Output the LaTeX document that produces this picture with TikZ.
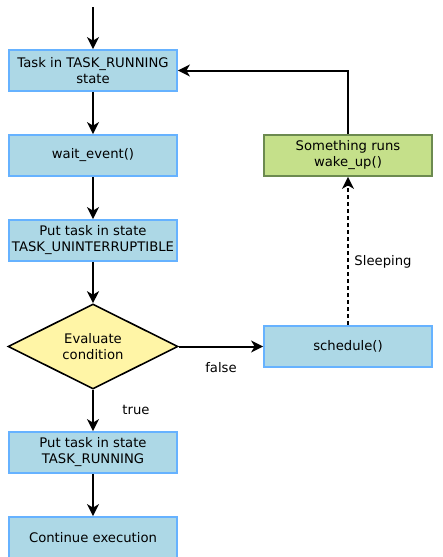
\documentclass[tikz,border=0pt]{standalone}
\usepackage{fontspec}
\setmainfont{DejaVu Sans}
\usetikzlibrary{arrows.meta,shapes.geometric}
\definecolor{bfill}{RGB}{173,216,230}
\definecolor{bdraw}{RGB}{102,178,255}
\definecolor{gfill}{RGB}{197,224,138}
\definecolor{gdraw}{RGB}{108,138,80}
\definecolor{yfill}{RGB}{255,245,166}
\tikzset{
  txt/.style={font=\fontsize{13.2}{16}\selectfont},
  bluebox/.style={txt,draw=bdraw,fill=bfill,line width=1.8pt,minimum width=168pt,minimum height=41pt,align=center,inner sep=0pt},
  greenbox/.style={bluebox,draw=gdraw,fill=gfill},
  decis/.style={txt,diamond,draw=black,fill=yfill,line width=1.6pt,minimum width=170pt,minimum height=85pt,aspect=2,inner sep=0pt,align=center},
  conn/.style={line width=2pt,-{Stealth[length=12pt,width=12pt,inset=3.5pt]}},
  lbl/.style={txt,inner sep=0pt}
}
\begin{document}
\begin{tikzpicture}[x=1pt,y=-1pt]
\useasboundingbox[fill=white] (0,0) rectangle (442,557);
\coordinate (start) at (93,7);
\node[bluebox] (run) at (93,70.5) {Task in TASK\_RUNNING\\state};
\node[bluebox] (wait) at (93,155.5) {wait\_event()};
\node[bluebox] (unint) at (93,240.5) {Put task in state\\TASK\_UNINTERRUPTIBLE};
\node[decis] (eval) at (93,346.5) {Evaluate\\condition};
\node[bluebox] (put) at (93,452.5) {Put task in state\\TASK\_RUNNING};
\node[bluebox] (cont) at (93,537.5) {Continue execution};
\node[bluebox] (sched) at (348,346.5) {schedule()};
\node[greenbox] (wake) at (348,155.5) {Something runs\\wake\_up()};
\coordinate (corner) at (348,70.5);
\draw[conn] (start) -- (run);
\draw[conn] (run) -- (wait);
\draw[conn] (wait) -- (unint);
\draw[conn] (unint) -- (eval);
\draw[conn] (eval) -- (put);
\draw[conn] (put) -- (cont);
\draw[conn] (eval.east) -- (sched.west);
\draw[conn,dash pattern=on 4pt off 3pt] (sched.north) -- (wake.south);
\draw[conn] (wake.north) -- (corner) -- (run.east);
\node[lbl] (lfalse) at (221,368) {false};
\node[lbl] (ltrue) at (136,410) {true};
\node[lbl] (lsleep) at (383,262) {Sleeping};
\end{tikzpicture}
\end{document}
